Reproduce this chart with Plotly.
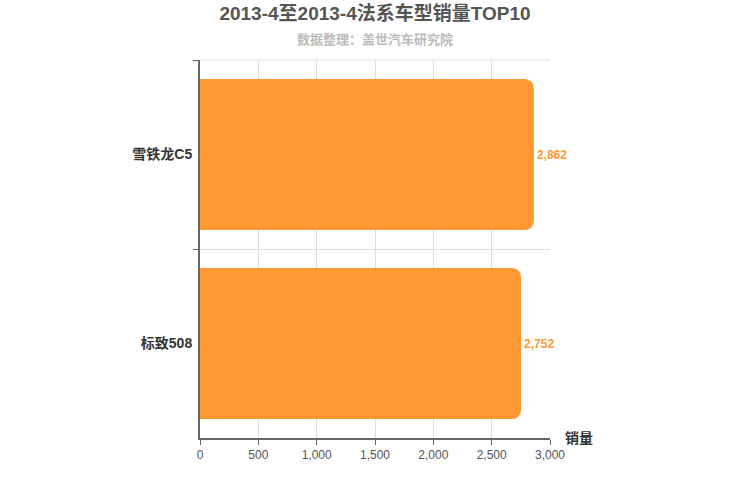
import plotly.graph_objects as go

categories = ["雪铁龙C5", "标致508"]
values = [2862, 2752]
x_tick_vals = [0, 500, 1000, 1500, 2000, 2500, 3000]
x_tick_text = ["0", "500", "1,000", "1,500", "2,000", "2,500", "3,000"]

FONT = "Liberation Sans, Arial, Noto Sans CJK SC, sans-serif"
CJK_FONT = "Noto Sans CJK SC, sans-serif"
ORANGE = "#FF9933"

fig = go.Figure()
fig.add_trace(go.Bar(
    y=categories,
    x=values,
    orientation="h",
    marker=dict(color=ORANGE, cornerradius=9, line=dict(width=0)),
    text=[f"{v:,}" for v in values],
    textposition="outside",
    textfont=dict(color=ORANGE, size=12, family=FONT, weight="bold"),
    cliponaxis=False,
    hoverinfo="skip",
))

fig.update_layout(
    width=750, height=500,
    margin=dict(l=200, r=200, t=60, b=62, autoexpand=False),
    paper_bgcolor="white", plot_bgcolor="white",
    bargap=0.2,
    showlegend=False,
    font=dict(family=FONT),
    title=dict(
        text="2013-4至2013-4法系车型销量TOP10",
        x=0.5, xanchor="center", y=1 - 13 / 500, yanchor="middle",
        font=dict(size=19, color="#555555", family=FONT, weight="bold"),
    ),
    annotations=[
        dict(text="数据整理：盖世汽车研究院", xref="paper", yref="paper",
             x=0.5, xanchor="center", y=1.0, yanchor="middle", yshift=22,
             showarrow=False, font=dict(size=13, color="#BBBBBB", family=CJK_FONT, weight="bold")),
        dict(text="销量", xref="paper", yref="paper",
             x=1.0, xanchor="left", xshift=13, y=0, yanchor="middle",
             showarrow=False, font=dict(size=14, color="#333333", family=FONT, weight="bold")),
    ],
    shapes=[
        dict(type="line", xref="paper", yref="paper", x0=0, x1=1, y0=1, y1=1,
             line=dict(color="#DDDDDD", width=1), layer="below"),
    ],
)

fig.update_xaxes(
    range=[0, 3000],
    tickvals=x_tick_vals, ticktext=x_tick_text,
    showgrid=True, gridcolor="#DDDDDD", gridwidth=1,
    showline=True, linecolor="#666666", linewidth=2,
    ticks="outside", ticklen=5, tickcolor="#666666",
    tickfont=dict(size=12, color="#555555", family=FONT),
    zeroline=False, fixedrange=True, automargin=False,
)
fig.update_yaxes(
    type="category",
    categoryorder="array", categoryarray=categories,
    autorange="reversed",
    tickson="boundaries",
    showgrid=True, gridcolor="#DDDDDD", gridwidth=1,
    showline=True, linecolor="#666666", linewidth=2,
    ticks="outside", ticklen=5, tickcolor="#666666",
    tickfont=dict(size=14, color="#333333", family=FONT, weight="bold"),
    ticklabelstandoff=3,
    zeroline=False, fixedrange=True, automargin=False,
)

fig.write_html(
    "out.html",
    config={"displayModeBar": False},
    post_script="document.body.style.margin='0';",
)
